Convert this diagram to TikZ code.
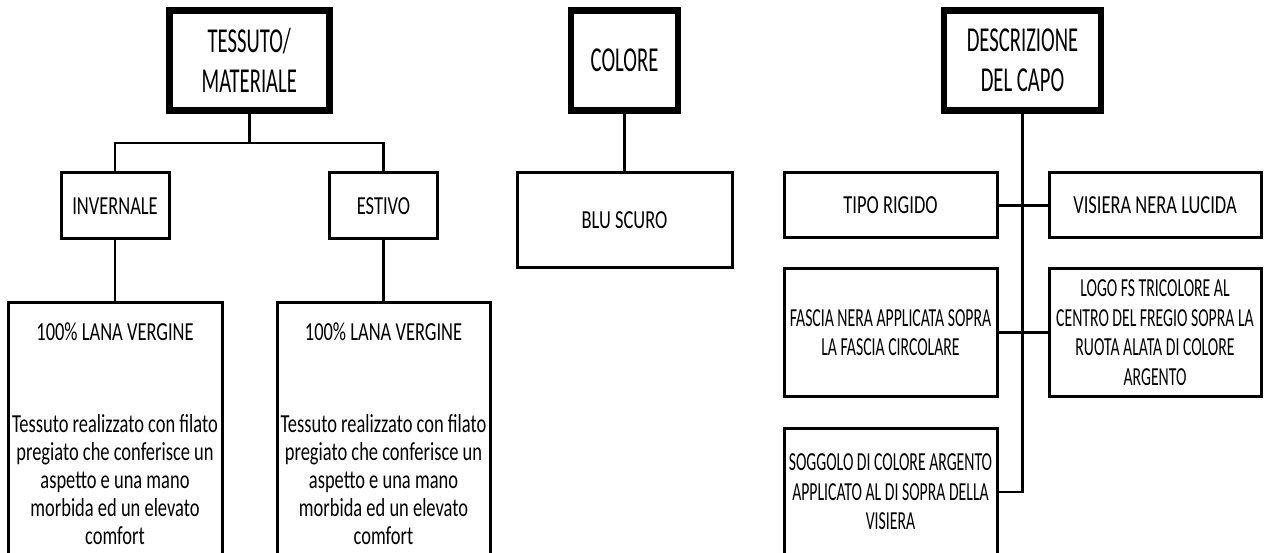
\documentclass[tikz,border=0pt]{standalone}
\usepackage{fontspec}
\newfontfamily\bodyf[FakeStretch=0.71]{Carlito}
\newfontfamily\rightf[FakeStretch=0.605]{Carlito}
\newfontfamily\titlef[FakeStretch=0.59]{Carlito}
\tikzset{
  titlebox/.style={draw, line width=6.7pt, outer sep=0pt, inner sep=0pt, align=center,
    font=\titlef\fontsize{35}{40}\selectfont},
  smallbox/.style={draw, line width=3pt, outer sep=0pt, inner sep=0pt, align=center,
    font=\bodyf\fontsize{26}{28}\selectfont},
  rightbox/.style={draw, line width=3pt, outer sep=0pt, inner sep=0pt, align=center,
    font=\rightf\fontsize{26}{29.5}\selectfont},
  link/.style={line width=2.6pt},
  hlink/.style={line width=3.4pt}
}
\begin{document}
\begin{tikzpicture}[x=1pt,y=-1pt]
\useasboundingbox (0,0) rectangle (1271,553);
\clip (0,0) rectangle (1271,553);
\fill[white] (0,0) rectangle (1271,553);

% titles
\node[titlebox, minimum width=160pt, minimum height=100pt] (tess) at (249.3,60.2) {TESSUTO/\\MATERIALE};
\node[titlebox, minimum width=107pt, minimum height=100pt] (col) at (624.5,60.2) {COLORE};
\node[titlebox, minimum width=157pt, minimum height=100pt] (desc) at (1022.5,60.2) {DESCRIZIONE\\DEL CAPO};

% left branch
\node[smallbox, minimum width=108pt, minimum height=66pt] (inv) at (115,206) {INVERNALE};
\node[smallbox, minimum width=108pt, minimum height=66pt] (est) at (383.5,206) {ESTIVO};
\node[smallbox, anchor=north] (w1) at (115,302) {%
  \begin{minipage}[t][272pt][t]{214pt}\centering\vspace*{18.5pt}%
  \strut 100\% LANA VERGINE\par\vspace{64pt}%
  Tessuto realizzato con filato\\pregiato che conferisce un\\aspetto e una mano\\morbida ed un elevato\\comfort
  \end{minipage}};
\node[smallbox, anchor=north] (w2) at (383.5,302) {%
  \begin{minipage}[t][272pt][t]{213pt}\centering\vspace*{18.5pt}%
  \strut 100\% LANA VERGINE\par\vspace{64pt}%
  Tessuto realizzato con filato\\pregiato che conferisce un\\aspetto e una mano\\morbida ed un elevato\\comfort
  \end{minipage}};

% colour
\node[smallbox, minimum width=215pt, minimum height=95pt] (blu) at (624.5,220.5) {BLU SCURO};

% right branch
\node[smallbox, minimum width=213pt, minimum height=65pt] (tipo) at (890.5,205.5) {TIPO RIGIDO};
\node[smallbox, minimum width=212pt, minimum height=65pt] (vis) at (1155,205.5) {VISIERA NERA LUCIDA};
\node[rightbox, minimum width=213pt, minimum height=127pt] (fas) at (890.5,332.5) {FASCIA NERA APPLICATA SOPRA\\LA FASCIA CIRCOLARE};
\node[rightbox, minimum width=212pt, minimum height=127pt] (logo) at (1155,332.5) {LOGO FS TRICOLORE AL\\CENTRO DEL FREGIO SOPRA LA\\RUOTA ALATA DI COLORE\\ARGENTO};
\node[rightbox, minimum width=213pt, minimum height=128pt, anchor=north] (sog) at (890.5,428) {SOGGOLO DI COLORE ARGENTO\\APPLICATO AL DI SOPRA DELLA\\VISIERA};

% connectors
\coordinate (tb) at (249.3,143);
\draw[link] (tess.south) -- (tb);
\draw[link] (inv.north) |- (tb) -| (est.north);
\draw[link] (inv.south) -- (w1.north);
\draw[link] (est.south) -- (w2.north);
\draw[link] (col.south) -- (blu.north);
\draw[link] (desc.south) |- (sog.east);
\draw[hlink] (tipo.east) -- (vis.west);
\draw[hlink] (fas.east) -- (logo.west);
\end{tikzpicture}
\end{document}
